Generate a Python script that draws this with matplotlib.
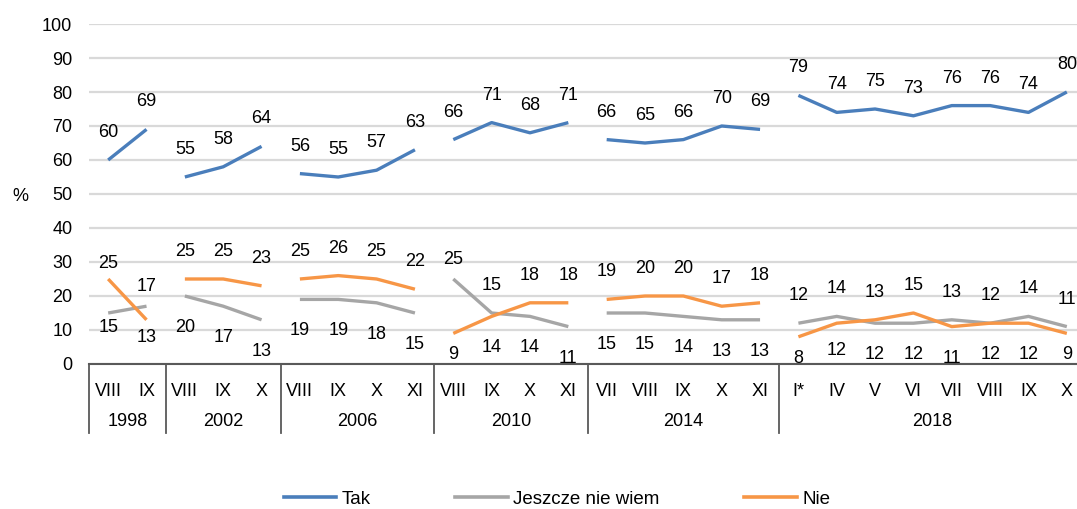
import matplotlib
matplotlib.use('Agg')
import matplotlib.pyplot as plt
import matplotlib.transforms as mtransforms
from matplotlib.lines import Line2D

years = ['1998', '2002', '2006', '2010', '2014', '2018']
months = [['VIII', 'IX'],
          ['VIII', 'IX', 'X'],
          ['VIII', 'IX', 'X', 'XI'],
          ['VIII', 'IX', 'X', 'XI'],
          ['VII', 'VIII', 'IX', 'X', 'XI'],
          ['I*', 'IV', 'V', 'VI', 'VII', 'VIII', 'IX', 'X']]
tak = [[60, 69], [55, 58, 64], [56, 55, 57, 63], [66, 71, 68, 71],
       [66, 65, 66, 70, 69], [79, 74, 75, 73, 76, 76, 74, 80]]
jeszcze = [[15, 17], [20, 17, 13], [19, 19, 18, 15], [25, 15, 14, 11],
           [15, 15, 14, 13, 13], [12, 14, 12, 12, 13, 12, 14, 11]]
nie = [[25, 13], [25, 25, 23], [25, 26, 25, 22], [9, 14, 18, 18],
       [19, 20, 20, 17, 18], [8, 12, 13, 15, 11, 12, 12, 9]]
series_names = ['Tak', 'Jeszcze nie wiem', 'Nie']
colors = ['#4A7EBB', '#A6A6A6', '#F79646']

plt.rcParams['font.family'] = ['Liberation Sans', 'DejaVu Sans']
FS = 13

W, H = 1077, 509
fig = plt.figure(figsize=(W / 100, H / 100), dpi=100)
ax = fig.add_axes([89 / W, (H - 364) / H, (1086 - 89) / W, (364 - 24) / H])
ax.set_xlim(-0.5, 25.5)
ax.set_ylim(0, 100)

ax.set_yticks(range(0, 101, 10))
ax.tick_params(axis='y', length=0, labelsize=FS, pad=12)
ax.yaxis.grid(True, color='#D9D9D9', linewidth=1.6)
ax.set_axisbelow(True)
for s in ['left', 'right', 'top']:
    ax.spines[s].set_visible(False)
ax.spines['bottom'].set_color('#595959')
ax.spines['bottom'].set_linewidth(1.5)

xt, xl = [], []
start = 0
bounds = [0]
for gi, ms in enumerate(months):
    xs = list(range(start, start + len(ms)))
    for si, data in enumerate([tak, jeszcze, nie]):
        ax.plot(xs, data[gi], color=colors[si], linewidth=2.4,
                solid_capstyle='butt', zorder=3)
    xt += xs
    xl += ms
    start += len(ms)
    bounds.append(start)

ax.set_xticks(xt)
ax.set_xticklabels(xl, fontsize=FS)
ax.tick_params(axis='x', length=0, pad=14)

# data labels (pixel offsets above / below the point)
UP, DOWN = 27.5, 31.5
up_fix = {0: 16, 1: 20, 9: 19}
down_fix = {0: 15, 1: 18, 9: 21, 18: 21.5, 19: 27, 25: 21.5}
flat = lambda d: [v for g in d for v in g]
T, J, N = flat(tak), flat(jeszcze), flat(nie)
for i in range(len(T)):
    ax.annotate(str(T[i]), (i, T[i]), xytext=(0, UP), textcoords='offset pixels',
                ha='center', va='center', fontsize=FS)
    if N[i] >= J[i]:
        hi, lo = N[i], J[i]
    else:
        hi, lo = J[i], N[i]
    ax.annotate(str(hi), (i, hi), xytext=(0, up_fix.get(i, UP)),
                textcoords='offset pixels', ha='center', va='center', fontsize=FS)
    ax.annotate(str(lo), (i, lo), xytext=(0, -down_fix.get(i, DOWN)),
                textcoords='offset pixels', ha='center', va='center', fontsize=FS)

# category group separators and year labels
trans = mtransforms.blended_transform_factory(ax.transData, ax.transAxes)
sep_bottom = -(433 - 364) / (364 - 24)
for b in bounds:
    ax.plot([b - 0.5, b - 0.5], [0, sep_bottom], transform=trans,
            color='#595959', linewidth=1.3, clip_on=False)
year_y = -(422 - 364) / (364 - 24)
for gi, y in enumerate(years):
    c = (bounds[gi] + bounds[gi + 1] - 1) / 2
    ax.text(c, year_y, y, transform=trans, ha='center', va='center', fontsize=FS)

fig.text(20 / W, 1 - 197 / H, '%', ha='center', va='center', fontsize=FS)

handles = [Line2D([], [], color=c, linewidth=2.6) for c in colors]
fig.legend(handles, series_names, loc='center', bbox_to_anchor=(557 / W, 1 - 499 / H),
           ncol=3, frameon=False, fontsize=13.5, handlelength=2.8,
           handletextpad=0.3, columnspacing=4.5, borderpad=0, borderaxespad=0)

fig.savefig('out.png', dpi=100)
